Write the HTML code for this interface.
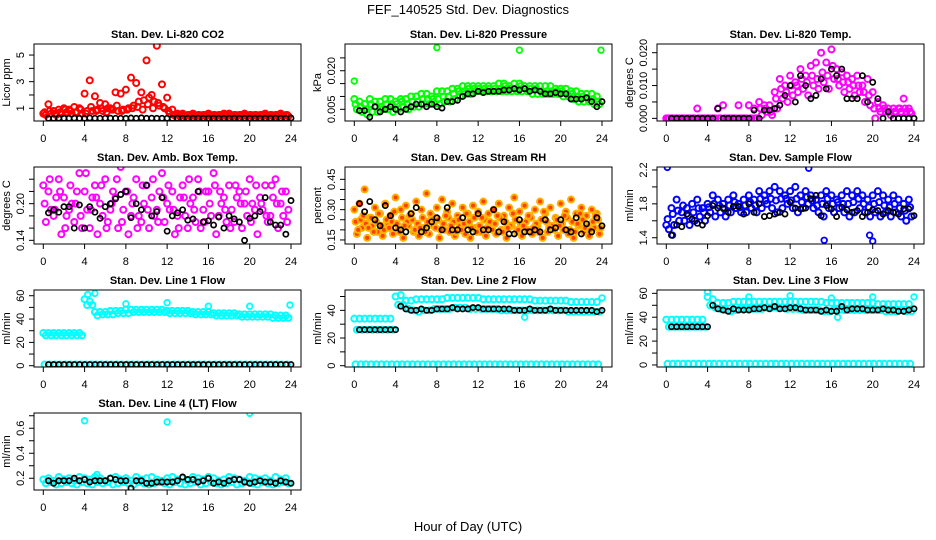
<!DOCTYPE html>
<html><head><meta charset="utf-8"><style>
body{margin:0;background:#fff;}
svg{display:block;font-family:"Liberation Sans",sans-serif;}
</style></head><body>
<svg id="chart" width="936" height="540" viewBox="0 0 936 540" xmlns="http://www.w3.org/2000/svg">
<rect width="936" height="540" fill="#fff"/>
<text x="468" y="14" text-anchor="middle" font-size="13">FEF_140525  Std. Dev. Diagnostics</text>
<text x="468" y="531" text-anchor="middle" font-size="13">Hour of Day (UTC)</text>
</svg>
<script>
// ---- data ----
const hourTicks=[0,4,8,12,16,20,24];
const co2A=[0.6,1.3,0.8,0.9,1.0,0.9,1.1,1.0,2.1,3.1,1.9,1.4,1.3,1.0,2.2,2.1,2.4,3.3,2.9,2.2,4.6,2.0,5.7,2.8,1.8,0.9,0.6,0.6,0.5,0.6,0.5,0.5,0.6,0.5,0.5,0.6,0.6,0.5,0.5,0.6,0.5,0.5,0.5,0.6,0.5,0.5,0.6,0.5];
const co2B=[0.5,0.6,0.5,0.6,0.7,0.6,0.7,0.6,0.8,0.8,0.9,0.8,1.0,0.9,0.8,0.9,1.0,1.2,1.5,1.6,1.8,1.5,1.2,1.0,0.6,0.5,0.4,0.4,0.4,0.4,0.4,0.4,0.4,0.4,0.4,0.4,0.4,0.4,0.4,0.4,0.4,0.4,0.4,0.4,0.4,0.4,0.4,0.4];
const co2C=[0.7,0.8,0.6,0.7,0.9,0.8,0.7,0.9,0.6,1.1,0.8,1.0,0.7,0.9,1.2,0.8,0.9,1.0,1.1,0.9,1.3,1.0,1.4,1.1,0.8,0.5,0.5,0.5,0.5,0.5,0.5,0.5,0.5,0.5,0.5,0.5,0.5,0.5,0.5,0.5,0.5,0.5,0.5,0.5,0.5,0.5,0.5,0.5];
const co2Black=[0.25,0.25,0.26,0.25,0.25,0.26,0.25,0.25,0.27,0.25,0.25,0.25,0.26,0.25,0.25,0.24,0.27,0.25,0.28,0.25,0.26,0.25,0.25,0.25,0.25,0.26,0.25,0.25,0.25,0.26,0.25,0.25,0.25,0.25,0.25,0.25,0.26,0.25,0.25,0.25,0.25,0.25,0.25,0.25,0.26,0.25,0.25,0.27];
const presA=[0.009,0.008,0.007,0.009,0.008,0.008,0.009,0.009,0.008,0.009,0.009,0.010,0.010,0.011,0.011,0.010,0.012,0.012,0.012,0.013,0.013,0.014,0.014,0.014,0.014,0.014,0.014,0.014,0.015,0.015,0.014,0.015,0.015,0.014,0.014,0.014,0.014,0.014,0.014,0.013,0.013,0.013,0.012,0.012,0.011,0.011,0.011,0.010];
const presB=[0.005,0.004,0.003,0.004,0.004,0.005,0.005,0.004,0.005,0.006,0.005,0.006,0.006,0.007,0.007,0.007,0.007,0.008,0.008,0.009,0.010,0.011,0.011,0.012,0.012,0.012,0.012,0.012,0.012,0.012,0.012,0.012,0.012,0.012,0.011,0.011,0.011,0.011,0.011,0.011,0.010,0.010,0.009,0.008,0.008,0.008,0.007,0.007];
const presC=[0.007,0.006,0.005,0.007,0.006,0.006,0.007,0.007,0.007,0.008,0.007,0.008,0.008,0.009,0.009,0.009,0.009,0.010,0.010,0.011,0.012,0.012,0.013,0.013,0.013,0.013,0.013,0.013,0.013,0.014,0.013,0.013,0.014,0.013,0.013,0.013,0.012,0.012,0.012,0.012,0.012,0.011,0.011,0.010,0.010,0.009,0.009,0.008];
const presBlack=[0.0045,0.0045,0.002,0.006,0.004,0.005,0.006,0.005,0.004,0.005,0.006,0.007,0.007,0.006,0.007,0.006,0.0055,0.008,0.008,0.0085,0.010,0.011,0.011,0.012,0.0115,0.012,0.012,0.012,0.0125,0.0125,0.013,0.0125,0.013,0.012,0.0125,0.012,0.011,0.011,0.0115,0.011,0.011,0.009,0.009,0.009,0.0095,0.008,0.006,0.008];
const presOutT=[0,8,16,23.9];
const presOutV=[0.016,0.029,0.028,0.028];
const tempA=[0,0,0,0,0,0,0.003,0,0,0,0.003,0.004,0,0,0.004,0,0.004,0.003,0.005,0.004,0.004,0.008,0.012,0.010,0.013,0.011,0.015,0.013,0.016,0.017,0.020,0.017,0.021,0.015,0.014,0.013,0.012,0.013,0.010,0.012,0.008,0.005,0.004,0.003,0.003,0.003,0.006,0.003];
const tempB=[0,0,0,0,0,0,0,0,0,0,0,0,0,0,0,0,0,0,0.001,0.002,0.001,0.003,0.006,0.005,0.007,0.008,0.009,0.007,0.010,0.009,0.011,0.009,0.012,0.010,0.008,0.009,0.007,0.008,0.005,0.004,0,0.002,0.002,0.001,0.002,0.002,0.002,0.0015];
const tempC=[0,0,0,0,0,0,0,0,0,0,0,0,0,0,0,0,0,0,0.003,0.003,0.002,0.006,0.009,0.008,0.010,0.010,0.012,0.011,0.013,0.012,0.014,0.013,0.016,0.012,0.011,0.011,0.010,0.010,0.008,0.007,0.003,0.003,0.003,0.002,0.002,0.003,0.003,0.002];
const tempBlack=[0,0,0,0,0,0,0,0,0,0.003,0,0,0,0,0,0,0.0025,0,0.0025,0.0025,0.003,0.004,0.007,0.010,0.005,0.013,0.010,0.006,0.007,0.012,0.009,0.015,0.013,0.015,0.006,0.006,0.006,0.013,0.005,0.011,0.006,0,0.002,0,0,0,0,0];
const boxA=[0.23,0.22,0.18,0.24,0.21,0.19,0.17,0.25,0.22,0.16,0.23,0.20,0.24,0.19,0.21,0.26,0.22,0.18,0.24,0.17,0.23,0.21,0.19,0.25,0.20,0.22,0.18,0.23,0.16,0.21,0.24,0.19,0.22,0.25,0.18,0.21,0.23,0.17,0.22,0.20,0.24,0.19,0.21,0.23,0.18,0.24,0.20,0.22];
const boxB=[0.17,0.19,0.21,0.15,0.18,0.20,0.22,0.16,0.19,0.21,0.15,0.18,0.17,0.22,0.16,0.19,0.15,0.21,0.18,0.20,0.16,0.18,0.22,0.17,0.19,0.15,0.21,0.18,0.20,0.17,0.16,0.22,0.18,0.15,0.20,0.17,0.19,0.21,0.16,0.18,0.20,0.15,0.19,0.17,0.21,0.16,0.18,0.19];
const boxC=[0.20,0.24,0.19,0.22,0.16,0.23,0.20,0.18,0.25,0.19,0.21,0.23,0.16,0.20,0.24,0.17,0.22,0.20,0.16,0.23,0.19,0.24,0.17,0.21,0.23,0.19,0.16,0.21,0.24,0.19,0.22,0.17,0.20,0.23,0.22,0.19,0.16,0.23,0.20,0.22,0.17,0.23,0.20,0.18,0.23,0.20,0.22,0.17];
const boxBlack=[0.185,0.19,0.186,0.195,0.195,0.16,0.198,0.16,0.195,0.186,0.176,0.195,0.20,0.208,0.215,0.22,0.177,0.20,0.19,0.23,0.18,0.187,0.21,0.155,0.18,0.185,0.19,0.173,0.175,0.22,0.17,0.172,0.165,0.178,0.16,0.18,0.175,0.17,0.14,0.176,0.18,0.187,0.21,0.17,0.165,0.165,0.15,0.205];
const rhA=[0.30,0.33,0.40,0.26,0.31,0.28,0.33,0.27,0.36,0.30,0.32,0.28,0.34,0.30,0.38,0.27,0.31,0.35,0.29,0.33,0.27,0.31,0.28,0.32,0.29,0.34,0.28,0.30,0.33,0.27,0.31,0.36,0.29,0.32,0.27,0.30,0.34,0.28,0.31,0.26,0.33,0.29,0.35,0.28,0.31,0.27,0.30,0.28];
const rhB=[0.18,0.21,0.16,0.22,0.19,0.17,0.23,0.18,0.20,0.16,0.22,0.19,0.17,0.21,0.18,0.24,0.16,0.20,0.19,0.17,0.22,0.18,0.16,0.21,0.19,0.17,0.23,0.18,0.20,0.16,0.22,0.19,0.17,0.20,0.18,0.22,0.16,0.19,0.21,0.17,0.20,0.18,0.16,0.22,0.19,0.17,0.21,0.18];
const rhC=[0.24,0.25,0.23,0.26,0.24,0.22,0.25,0.24,0.23,0.26,0.24,0.25,0.23,0.26,0.24,0.22,0.25,0.23,0.26,0.24,0.25,0.23,0.24,0.26,0.22,0.25,0.24,0.23,0.26,0.24,0.22,0.25,0.23,0.24,0.26,0.23,0.25,0.24,0.22,0.25,0.23,0.26,0.24,0.23,0.25,0.22,0.24,0.25];
const rhD=[0.20,0.27,0.21,0.19,0.28,0.20,0.21,0.29,0.19,0.22,0.27,0.20,0.21,0.19,0.28,0.21,0.20,0.27,0.22,0.19,0.20,0.28,0.21,0.19,0.26,0.21,0.20,0.27,0.19,0.21,0.28,0.20,0.22,0.27,0.21,0.19,0.29,0.21,0.20,0.22,0.27,0.20,0.19,0.28,0.21,0.20,0.27,0.21];
const rhBlack=[0.33,0.29,0.34,0.25,0.22,0.32,0.27,0.21,0.20,0.19,0.28,0.31,0.19,0.21,0.24,0.26,0.20,0.31,0.20,0.20,0.26,0.20,0.19,0.28,0.20,0.20,0.30,0.19,0.24,0.18,0.18,0.25,0.19,0.19,0.20,0.19,0.25,0.20,0.21,0.25,0.20,0.19,0.26,0.18,0.23,0.19,0.26,0.22];
const flowA=[1.55,1.75,1.85,1.70,1.75,1.80,1.85,1.75,1.80,1.90,1.85,1.80,1.85,1.90,1.80,1.85,1.90,1.85,1.95,1.90,1.95,2.00,1.95,1.90,1.95,2.00,1.90,1.95,1.90,1.85,1.90,1.95,1.90,1.85,1.90,1.95,1.90,1.95,1.90,1.85,1.90,1.95,1.90,1.85,1.90,1.85,1.80,1.85];
const flowB=[1.50,1.55,1.60,1.60,1.55,1.60,1.65,1.60,1.70,1.65,1.70,1.65,1.70,1.75,1.70,1.70,1.75,1.70,1.75,1.80,1.75,1.70,1.75,1.80,1.75,1.70,1.75,1.80,1.75,1.70,1.65,1.75,1.70,1.75,1.70,1.65,1.70,1.75,1.70,1.65,1.70,1.65,1.70,1.65,1.70,1.65,1.60,1.65];
const flowC=[1.62,1.68,1.72,1.78,1.66,1.70,1.75,1.70,1.76,1.80,1.78,1.74,1.78,1.82,1.76,1.78,1.82,1.78,1.86,1.84,1.86,1.84,1.86,1.86,1.84,1.86,1.82,1.88,1.84,1.78,1.80,1.86,1.80,1.82,1.80,1.80,1.82,1.86,1.80,1.76,1.80,1.82,1.78,1.76,1.80,1.75,1.72,1.76];
const flowBlack=[1.43,1.55,1.53,1.68,1.62,1.57,1.55,1.66,1.78,1.75,1.75,1.70,1.77,1.77,1.68,1.80,1.70,1.80,1.65,1.66,1.68,1.70,1.68,1.82,1.75,1.74,1.75,1.86,1.90,1.66,1.78,1.74,1.65,1.76,1.73,1.70,1.72,1.65,1.70,1.73,1.72,1.68,1.72,1.70,1.68,1.74,1.74,1.66];
const flowOutT=[0.1,13.8,15.3,19.7,20,0.6];
const flowOutV=[2.23,2.22,1.37,1.43,1.36,1.43];
const l1A=[28,28,28,28,28,28,28,28,57,55,46,46,46,47,47,47,48,48,48,48,48,48,48,48,47,47,47,47,47,46,46,46,46,45,45,45,45,45,44,44,44,44,44,44,44,43,43,43];
const l1B=[26,26,26,26,26,26,26,26,52,52,43,44,44,44,45,45,45,46,46,46,46,46,46,46,45,45,45,45,45,44,44,44,44,43,43,43,43,43,42,42,42,42,42,42,41,41,41,41];
const l1Zero=[1,1,1,1,1,1,1,1,1,1,1,1,1,1,1,1,1,1,1,1,1,1,1,1,1,1,1,1,1,1,1,1,1,1,1,1,1,1,1,1,1,1,1,1,1,1,1,1];
const l1Black=[1,1,1,1,1,1,1,1,1,1,1,1,1,1,1,1,1,1,1,1,1,1,1,1,1,1,1,1,1,1,1,1,1,1,1,1,1,1,1,1,1,1,1,1,1,1,1,1];
const l1OutT=[4.3,5,8,12,16,20,23.9];
const l1OutV=[61,62,53,54,51,51,52];
const l2A=[34,34,34,34,34,34,34,34,50,51,47,47,48,48,48,48,48,48,49,49,49,49,49,49,49,48,48,48,48,48,48,48,48,48,48,47,47,47,47,47,47,47,46,46,46,46,46,46];
const l2B=[26,26,26,26,26,26,26,26,44,44,41,40,39,40,40,41,41,41,41,42,42,42,41,41,41,41,41,41,40,40,40,40,40,40,40,40,40,40,40,40,40,39,39,39,39,39,39,39];
const l2Black=[26,26,26,26,26,26,26,26,43,41,40,40,41,40,40,41,41,41,42,41,41,41,42,42,41,41,41,41,41,41,40,40,40,41,40,40,40,41,40,40,40,40,40,40,40,40,39,40];
const l2OutT=[16.5,24];
const l2OutV=[35,49];
const l3A=[38,38,38,38,38,38,38,38,57,55,52,52,52,53,53,53,53,53,53,53,53,53,53,53,53,53,53,53,53,53,53,52,52,52,52,52,52,52,52,52,52,51,51,51,51,51,51,51];
const l3B=[32,32,32,32,32,32,32,32,50,48,47,46,45,46,47,47,47,47,47,48,48,48,48,47,47,47,46,46,46,46,45,45,46,46,46,46,46,46,46,46,46,46,45,45,45,46,45,45];
const l3Black=[32,32,32,32,32,32,32,32,50,47,46,45,47,46,46,46,47,47,48,47,49,47,47,48,48,47,46,46,46,45,46,45,45,49,46,47,47,47,46,46,46,47,46,46,45,45,46,47];
const l3OutT=[4,8,12,16,16.6,20,24];
const l3OutV=[61,57,58,56,40,57,57];
const l4A=[0.19,0.20,0.18,0.21,0.19,0.20,0.18,0.21,0.20,0.19,0.21,0.20,0.18,0.20,0.21,0.19,0.20,0.18,0.21,0.19,0.20,0.21,0.19,0.18,0.20,0.21,0.19,0.20,0.18,0.21,0.20,0.19,0.21,0.20,0.18,0.19,0.21,0.20,0.19,0.18,0.21,0.20,0.19,0.20,0.18,0.21,0.19,0.20];
const l4B=[0.16,0.17,0.15,0.16,0.17,0.16,0.15,0.17,0.16,0.15,0.17,0.16,0.17,0.15,0.16,0.17,0.16,0.15,0.17,0.16,0.15,0.16,0.17,0.16,0.15,0.17,0.16,0.15,0.16,0.17,0.15,0.16,0.17,0.16,0.15,0.16,0.17,0.15,0.16,0.17,0.16,0.15,0.17,0.16,0.15,0.16,0.17,0.16];
const l4Black=[0.18,0.16,0.18,0.18,0.18,0.20,0.18,0.19,0.17,0.18,0.18,0.18,0.20,0.19,0.18,0.18,0.12,0.18,0.18,0.16,0.16,0.17,0.17,0.17,0.17,0.18,0.21,0.19,0.19,0.17,0.18,0.20,0.16,0.17,0.16,0.18,0.19,0.19,0.17,0.16,0.17,0.18,0.17,0.17,0.16,0.18,0.17,0.16];
const l4OutT=[4,12,20,5.2];
const l4OutV=[0.66,0.65,0.72,0.23];

// ---- layout ----
const NS="http://www.w3.org/2000/svg";
const svg=document.getElementById('chart');
const colL=[34,345,657], rowT=[44,167,290,413], BW=267, BH=77;
function mk(tag,attrs,parent){const e=document.createElementNS(NS,tag);for(const k in attrs)e.setAttribute(k,attrs[k]);(parent||svg).appendChild(e);return e;}

const panels=[
 {name:'co2',title:'Stan. Dev. Li-820 CO2',ylab:'Licor ppm',c:0,r:0,ymin:0.045,ymax:5.83,ticks:[1,2,3,4,5],labels:[1,3,5],col:'#ff0000',fill:'none',series:[co2B,co2A,co2C],black:co2Black},
 {name:'pressure',title:'Stan. Dev. Li-820 Pressure',ylab:'kPa',c:1,r:0,ymin:0.00045,ymax:0.0304,ticks:[0.005,0.010,0.015,0.020,0.025],labels:['0.005','0.020'],col:'#00ff00',fill:'none',series:[presB,presA,presC],black:presBlack,outT:presOutT,outV:presOutV},
 {name:'temp',title:'Stan. Dev. Li-820 Temp.',ylab:'degrees C',c:2,r:0,ymin:-0.0008,ymax:0.02265,ticks:[0,0.005,0.010,0.015,0.020],labels:['0.000','0.010','0.020'],col:'#ff00ff',fill:'none',series:[tempB,tempA,tempC],black:tempBlack},
 {name:'box-temp',title:'Stan. Dev. Amb. Box Temp.',ylab:'degrees C',c:0,r:1,ymin:0.134,ymax:0.26,ticks:[0.14,0.16,0.18,0.20,0.22,0.24],labels:['0.14','0.20'],col:'#ff00ff',fill:'none',series:[boxB,boxA,boxC],black:boxBlack},
 {name:'rh',title:'Stan. Dev. Gas Stream RH',ylab:'percent',c:1,r:1,ymin:0.13,ymax:0.511,ticks:[0.15,0.20,0.25,0.30,0.35,0.40,0.45],labels:['0.15','0.30','0.45'],col:'#ffb000',fill:'#ff4000',series:[rhB,rhA,rhC,rhD],black:rhBlack},
 {name:'sample-flow',title:'Stan. Dev. Sample Flow',ylab:'ml/min',c:2,r:1,ymin:1.326,ymax:2.235,ticks:[1.4,1.6,1.8,2.0,2.2],labels:['1.4','1.8','2.2'],col:'#0000ff',fill:'none',series:[flowB,flowA,flowC],black:flowBlack,outT:flowOutT,outV:flowOutV},
 {name:'line1',title:'Stan. Dev. Line 1 Flow',ylab:'ml/min',c:0,r:2,ymin:-1.1,ymax:64.9,ticks:[0,10,20,30,40,50,60],labels:[0,20,40,60],col:'#00ffff',fill:'none',series:[l1B,l1A,l1Zero],black:l1Black,outT:l1OutT,outV:l1OutV},
 {name:'line2',title:'Stan. Dev. Line 2 Flow',ylab:'ml/min',c:1,r:2,ymin:-0.94,ymax:54.7,ticks:[0,10,20,30,40,50],labels:[0,20,40],col:'#00ffff',fill:'none',series:[l2B,l2A,l1Zero],black:l2Black,outT:l2OutT,outV:l2OutV},
 {name:'line3',title:'Stan. Dev. Line 3 Flow',ylab:'ml/min',c:2,r:2,ymin:-1.7,ymax:62.8,ticks:[0,10,20,30,40,50,60],labels:[0,20,40,60],col:'#00ffff',fill:'none',series:[l3B,l3A,l1Zero],black:l3Black,outT:l3OutT,outV:l3OutV},
 {name:'line4',title:'Stan. Dev. Line 4 (LT) Flow',ylab:'ml/min',c:0,r:3,ymin:0.106,ymax:0.722,ticks:[0.2,0.3,0.4,0.5,0.6,0.7],labels:['0.2','0.4','0.6'],col:'#00ffff',fill:'none',series:[l4B,l4A],black:l4Black,outT:l4OutT,outV:l4OutV}
];
const offs=[0.25,0.0,0.125,0.375];

panels.forEach(p=>{
  const L=colL[p.c], T=rowT[p.r], R=L+BW, B=T+BH;
  const x0=L+9.3, x24=L+257;
  const xs=t=>x0+t*(x24-x0)/24;
  const ys=v=>T+(p.ymax-v)/(p.ymax-p.ymin)*BH;
  const g=mk('g',{});
  
  
  const tt=mk('text',{x:(L+R)/2,y:T-6,'text-anchor':'middle','font-size':11,'font-weight':'bold'},g);
  tt.textContent=p.title;
  
  
  const cp=mk('clipPath',{id:'clip-'+p.name},g);
  mk('rect',{x:L,y:T,width:BW,height:BH},cp);
  const pts=mk('g',{'clip-path':'url(#clip-'+p.name+')'},g);
  
  
  p.series.forEach((arr,si)=>{
    arr.forEach((v,i)=>{
      const c=mk('circle',{cx:xs(Math.min(24,i*0.5+offs[si%4])),cy:ys(v),r:3,fill:p.fill,stroke:p.col,'stroke-width':2},pts);
      
      
    });
  });
  if(p.outT){p.outT.forEach((t,i)=>{
    const c=mk('circle',{cx:xs(t),cy:ys(p.outV[i]),r:2.8,fill:p.fill,stroke:p.col,'stroke-width':1.8},pts);
    
    
  });}
  p.black.forEach((v,i)=>{
    const c=mk('circle',{cx:xs(Math.min(24,i*0.5+0.5)),cy:ys(v),r:2.6,fill:'none',stroke:'#000','stroke-width':1.7},pts);
    
    
  });
  mk('rect',{x:L,y:T,width:BW,height:BH,fill:'none',stroke:'#000','stroke-width':1},g);
  mk('line',{x1:xs(0),x2:xs(24),y1:B,y2:B,stroke:'#000'},g);
  hourTicks.forEach(h=>{
    mk('line',{x1:xs(h),x2:xs(h),y1:B,y2:B+5,stroke:'#000'},g);
    const tl=mk('text',{x:xs(h),y:B+21,'text-anchor':'middle','font-size':11},g);
    tl.textContent=h;
    
    
  });
  mk('line',{x1:L,x2:L,y1:ys(p.ticks[0]),y2:ys(p.ticks[p.ticks.length-1]),stroke:'#000'},g);
  p.ticks.forEach(v=>mk('line',{x1:L-5,x2:L,y1:ys(v),y2:ys(v),stroke:'#000'},g));
  p.labels.forEach(l=>{
    const y=ys(parseFloat(l));
    const tl=mk('text',{x:L-10,y:y,'text-anchor':'middle','font-size':11,transform:'rotate(-90 '+(L-10)+' '+y+')'},g);
    tl.textContent=l;
    
    
  });
  const yl=mk('text',{x:L-24,y:(T+B)/2,'text-anchor':'middle','font-size':11,transform:'rotate(-90 '+(L-24)+' '+((T+B)/2)+')'},g);
  yl.textContent=p.ylab;
  
  
});
</script>
</body></html>
